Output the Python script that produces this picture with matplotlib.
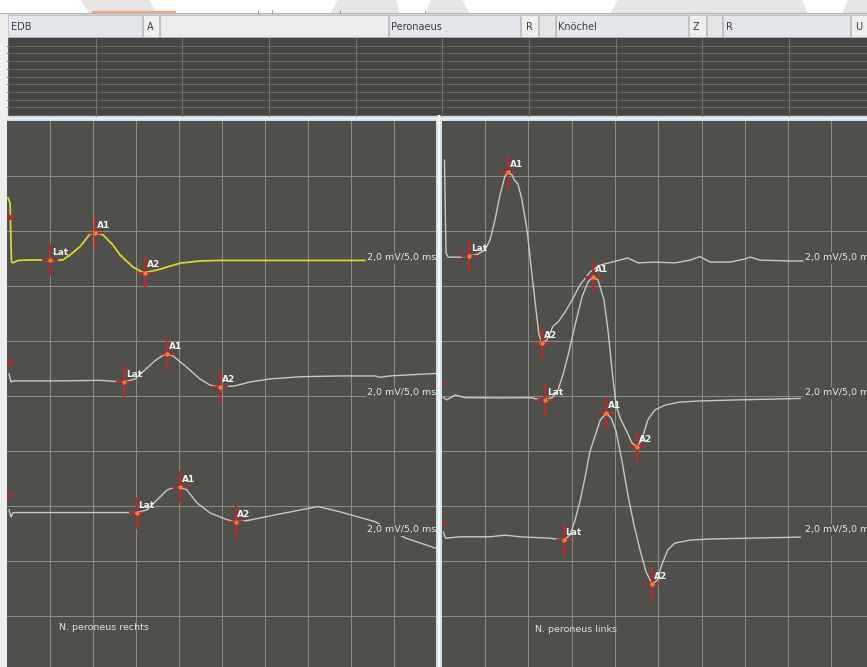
import numpy as np
import matplotlib
matplotlib.use("Agg")
import matplotlib.pyplot as plt
from matplotlib.patches import Rectangle, Polygon

W, H = 867, 667

# ---- traces, left panel (N. peroneus rechts), t in ms, v in mV relative to baseline
l1_t = [0.12, 0.35, 0.52, 0.70, 1.28, 3.26, 5.0, 6.51, 7.33, 8.49, 9.65, 10.23, 11.16, 12.33,
        13.14, 14.65, 15.81, 16.05, 17.44, 20.1, 22.44, 24.77, 41.6]
l1_v = [2.27, 2.09, -0.05, -0.09, 0.0, 0.02, 0.0, 0.02, 0.2, 0.5, 0.96, 1.01, 0.93, 0.56,
        0.2, -0.24, -0.44, -0.44, -0.35, -0.1, -0.02, 0.0, 0.0]
l2_t = [0.23, 0.47, 0.81, 6.16, 10.8, 12.56, 13.6, 14.9, 16.05, 17.2, 18.14, 18.6, 19.3, 20.7,
        22.44, 23.6, 24.77, 26.5, 28.26, 30.58, 34.07, 38.7, 42.8, 43.4, 44.5, 49.8]
l2_v = [0.25, -0.04, 0.0, 0.0, 0.02, -0.02, -0.04, 0.07, 0.4, 0.73, 0.93, 0.97, 0.91, 0.55,
        0.07, -0.15, -0.23, -0.18, -0.04, 0.07, 0.15, 0.18, 0.18, 0.13, 0.18, 0.27]
l3_t = [0.23, 0.47, 0.7, 6.16, 13.14, 15.1, 16.28, 17.44, 18.6, 19.53, 20.1, 20.9, 22.1, 23.6,
        25.35, 26.6, 28.26, 31.7, 36.16, 38.7, 42.8, 46.3, 49.8]
l3_v = [0.1, -0.16, 0.0, 0.0, 0.0, 0.0, 0.1, 0.46, 0.82, 0.93, 0.92, 0.83, 0.35, -0.01,
        -0.23, -0.35, -0.27, -0.05, 0.22, 0.03, -0.33, -0.92, -1.29]

# ---- traces, right panel (N. peroneus links)
r1_t = [0.32, 0.5, 0.73, 2.1, 3.15, 4.2, 5.0, 5.58, 6.15, 6.73, 7.31, 7.66, 8.12, 8.46, 8.81,
        9.27, 9.85, 10.43, 10.89, 11.24, 11.58, 12.16, 12.85, 13.43, 14.24, 15.05, 15.97,
        17.13, 18.28, 19.67, 21.5, 22.68, 24.6, 26.9, 28.7, 29.8, 31.0, 33.3, 35.0, 35.6,
        36.8, 40.2, 41.7]
r1_v = [3.49, 0.11, -0.04, -0.04, 0.0, 0.07, 0.22, 0.58, 1.31, 2.22, 2.91, 3.05, 2.95, 2.73,
        2.62, 2.04, 0.95, -0.69, -1.96, -2.87, -3.16, -3.05, -2.55, -2.4, -2.04, -1.6, -1.05,
        -0.58, -0.33, -0.22, -0.07, -0.25, -0.22, -0.25, -0.15, -0.02, -0.22, -0.22, -0.11,
        -0.04, -0.15, -0.18, -0.18]
r2_t = [0.2, 0.6, 1.54, 2.7, 6.73, 10.2, 11.35, 11.93, 12.74, 13.43, 14.0, 14.6, 15.4, 16.2,
        16.9, 17.47, 18.05, 18.74, 19.2, 19.67, 20.13, 20.6, 21.4, 21.96, 22.54, 23.1, 23.8,
        24.6, 25.8, 27.5, 29.8, 34.4, 41.4]
r2_v = [0.0, -0.08, 0.1, 0.0, -0.01, 0.0, -0.07, -0.08, 0.0, 0.28, 0.83, 1.55, 2.64, 3.66,
        4.21, 4.39, 4.28, 3.55, 2.46, 1.0, -0.27, -0.74, -1.25, -1.65, -1.78, -1.54, -0.81,
        -0.45, -0.27, -0.16, -0.12, -0.08, -0.03]
r3_t = [0.2, 0.44, 2.1, 5.6, 7.3, 9.04, 12.5, 14.1, 14.8, 15.4, 16.0, 16.6, 17.1, 17.7, 18.3,
        19.0, 19.56, 20.1, 20.8, 21.5, 22.2, 22.9, 23.6, 24.3, 24.9, 25.4, 26.1, 26.9, 28.7,
        31.0, 35.6, 41.4]
r3_v = [0.17, -0.05, 0.0, 0.0, 0.06, 0.0, -0.05, -0.12, 0.06, 0.61, 1.33, 2.24, 3.08, 3.66,
        4.24, 4.5, 4.32, 3.88, 2.79, 1.52, 0.43, -0.48, -1.28, -1.72, -1.57, -1.03, -0.48,
        -0.23, -0.12, -0.08, -0.05, -0.01]

# baselines (mV below panel top)
l_base = [-5.07, -9.45, -14.24]
r_base = [-4.91, -10.06, -15.12]

# cursor marks: names, times, amplitudes
mark_names = ["Lat", "A1", "A2"]
l1_mt, l1_mv = [5.0, 10.23, 16.05], [0.0, 1.01, -0.44]
l2_mt, l2_mv = [13.6, 18.6, 24.77], [-0.04, 0.97, -0.23]
l3_mt, l3_mv = [15.1, 20.1, 26.6], [0.0, 0.92, -0.35]
r1_mt, r1_mv = [3.15, 7.66, 11.58], [0.0, 3.05, -3.16]
r2_mt, r2_mv = [11.93, 17.47, 22.54], [-0.08, 4.39, -1.78]
r3_mt, r3_mv = [14.1, 19.0, 24.3], [-0.12, 4.5, -1.72]

# stimulus flags
l_stim_t, l_stim_v = [0.47, 0.35, 0.35], [-3.48, -8.76, -13.6]
r_stim_t, r_stim_v = [0.15, 0.15], [-9.53, -14.62]

scale_label = "2,0 mV/5,0 ms"
label_y = [-4.98, -9.89, -14.87]

BG = "#4f4f4b"
GRID = "#8f8e81"
TRACE = "#c9c9c2"
YELLOW = "#d9d52c"
RED = "#b8282c"

fig = plt.figure(figsize=(W / 100, H / 100), dpi=100)
fig.patch.set_facecolor("#f2f2f2")


def px_axes(x0, y0, x1, y1):
    return fig.add_axes([x0 / W, 1 - y1 / H, (x1 - x0) / W, (y1 - y0) / H])


# ---- screen chrome
bg = px_axes(0, 0, W, H)
bg.set_xlim(0, W)
bg.set_ylim(H, 0)
bg.axis("off")
bg.add_patch(Rectangle((0, 0), W, 13, color="#e6e6e6"))
for poly in [[(0, 0), (80, 0), (88, 13), (0, 13)],
             [(150, 0), (337, 0), (330, 13), (158, 13)],
             [(397, 0), (430, 0), (425, 13), (400, 13)],
             [(463, 0), (617, 0), (610, 13), (470, 13)],
             [(803, 0), (847, 0), (842, 13), (808, 13)]]:
    bg.add_patch(Polygon(poly, closed=True, color="white"))
bg.add_patch(Rectangle((92, 10.5), 83, 2.5, color="#f0a888"))
bg.plot([0, W], [13, 13], color="#b5b5b5", lw=0.8)
for x in [258, 272, 340, 425]:
    bg.plot([x, x], [10, 13], color="#999999", lw=0.6)

# header bar
bg.add_patch(Rectangle((0, 13.5), W, 24.5, color="#d6d6d6"))
boxes = [(7, 142, "#e4e7ea"), (142, 159, "#efefef"), (159, 388, "#ececec"),
         (388, 520, "#e4e7ea"), (520, 538, "#efefef"), (538, 555, "#e6e6e6"),
         (555, 688, "#e4e7ea"), (688, 706, "#efefef"), (706, 722, "#e6e6e6"),
         (722, 850, "#e4e7ea"), (850, 867, "#efefef")]
for x0, x1, c in boxes:
    bg.add_patch(Rectangle((x0 + 0.5, 15), x1 - x0 - 1, 22, facecolor=c,
                           edgecolor="#bdbdbd", lw=0.6))
for x, s, ha in [(11, "EDB", "left"), (150, "A", "center"), (391, "Peronaeus", "left"),
                 (529, "R", "center"), (558, "Knöchel", "left"), (696, "Z", "center"),
                 (726, "R", "left"), (859, "U", "center")]:
    bg.text(x, 26.5, s, ha=ha, va="center", fontsize=7, color="#3c3c3c")

# upper dark strip
bg.add_patch(Rectangle((7, 38), W - 7, 78, color="#464641"))
for y in np.arange(45.7, 112, 7.7):
    bg.plot([7, W], [y, y], color="#6b6a60", lw=0.7)
for x in np.arange(95.7, W, 86.65):
    bg.plot([x, x], [38, 116], color="#77766b", lw=0.7)

# separators and left white strip
bg.add_patch(Rectangle((0, 13), 7, H, color="#eeeeee"))
bg.add_patch(Rectangle((7, 116), W, 5, color="#d3e2ea"))
bg.plot([7, W], [118.3, 118.3], color="#eef5f8", lw=1.0)
bg.add_patch(Rectangle((436, 116), 6, H, color="#d3e2ea"))
bg.plot([439, 439], [116, H], color="#f4f8fa", lw=1.5)


def panel(x0, x1, px_per_ms):
    ax = px_axes(x0, 121, x1, H)
    ax.set_facecolor(BG)
    ax.set_xlim(0, (x1 - x0) / px_per_ms)
    ax.set_ylim(-(H - 121) / 27.5, 0)
    ax.set_xticks(np.arange(5, (x1 - x0) / px_per_ms, 5))
    ax.set_yticks(np.arange(-2, -20, -2))
    ax.grid(True, color=GRID, lw=0.7)
    ax.tick_params(length=0, labelbottom=False, labelleft=False)
    for s in ax.spines.values():
        s.set_visible(False)
    return ax


def draw_marks(ax, mt, mv, base):
    y = np.array(mv) + base
    ax.plot(mt, y, ls="none", marker="|", ms=23, mew=1.6, color=RED, zorder=4)
    ax.plot(mt, y, ls="none", marker="_", ms=11, mew=1.6, color=RED, zorder=4)
    ax.plot(mt, y, ls="none", marker="o", ms=2.2, color="#e8843a", zorder=5)
    for name, t, v in zip(mark_names, mt, y):
        ax.annotate(name, (t, v), xytext=(1.2, 2.2), textcoords="offset points",
                    ha="left", va="bottom", fontsize=6.5, fontweight="bold",
                    color="#f2f2f2", zorder=6)


left = panel(7, 436, 8.6)
right = panel(441.7, 867, 8.66)

left.plot(l1_t, np.array(l1_v) + l_base[0], color=YELLOW, lw=1.3, zorder=3)
left.plot(l2_t, np.array(l2_v) + l_base[1], color=TRACE, lw=1.0, zorder=3)
left.plot(l3_t, np.array(l3_v) + l_base[2], color=TRACE, lw=1.0, zorder=3)
right.plot(r1_t, np.array(r1_v) + r_base[0], color=TRACE, lw=1.0, zorder=3)
right.plot(r2_t, np.array(r2_v) + r_base[1], color=TRACE, lw=1.0, zorder=3)
right.plot(r3_t, np.array(r3_v) + r_base[2], color=TRACE, lw=1.0, zorder=3)

for ax, marks, bases in [(left, [(l1_mt, l1_mv), (l2_mt, l2_mv), (l3_mt, l3_mv)], l_base),
                         (right, [(r1_mt, r1_mv), (r2_mt, r2_mv), (r3_mt, r3_mv)], r_base)]:
    for (mt, mv), b in zip(marks, bases):
        draw_marks(ax, mt, mv, b)

left.plot(l_stim_t, l_stim_v, ls="none", marker=">", ms=3.5, color=RED, zorder=4)
right.plot(r_stim_t, r_stim_v, ls="none", marker=">", ms=3.5, color=RED, zorder=4)

# scale labels; on the right they run past the panel edge, as in the source screen
for ax, x in [(left, 41.86), (right, 41.95)]:
    for y in label_y:
        ax.text(x, y, scale_label, ha="left", va="center", fontsize=6.8, color="#e6e6e6",
                zorder=7, clip_on=True,
                bbox=dict(boxstyle="square,pad=0.15", facecolor=BG, edgecolor="none"))

left.text(6.0, -18.4, "N. peroneus rechts", ha="left", va="center", fontsize=6.8,
          color="#e0e0e0")
right.text(10.75, -18.5, "N. peroneus links", ha="left", va="center", fontsize=6.8,
           color="#e0e0e0")

fig.savefig("out.png", dpi=100, facecolor=fig.get_facecolor())
